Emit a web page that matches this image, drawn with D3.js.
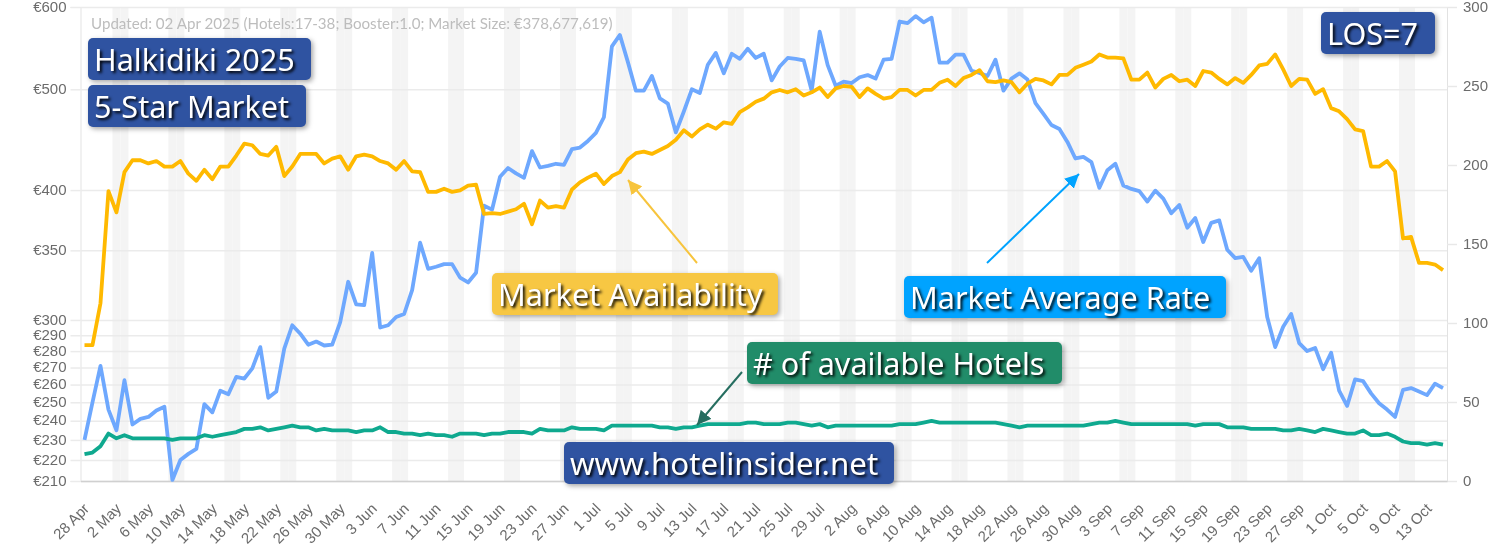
<!DOCTYPE html>
<html>
<head>
<meta charset="utf-8">
<title>Halkidiki 2025</title>
<script src="https://cdn.jsdelivr.net/npm/d3@7"></script>
<style>
  html, body { margin: 0; padding: 0; background: #fff; overflow: hidden; }
  #chart { position: relative; width: 1496px; height: 550px; }
  #chart svg { position: absolute; left: 0; top: 0; }
  .axis { opacity: 0.999; }
  .axis text { font-family: "Liberation Sans", Arial, sans-serif; fill: #6b6b6b; }
  .tag {
    position: absolute; box-sizing: border-box; height: 42px; line-height: 43px;
    padding-left: 6px; border-radius: 5px; color: #fff; white-space: nowrap;
    font-family: "Noto Sans", "Open Sans", sans-serif; font-size: 30.6px;
    text-shadow: 2px 2px 3px #000; box-shadow: 2px 2px 5px rgba(0, 0, 0, 0.35);
  }
</style>
</head>
<body>
<div id="chart"></div>
<script>
// values, one per day from 28 Apr
const firstDay = new Date(2025, 3, 28);
const lastDay = new Date(2025, 9, 15);

const marketRate = [
  230, 250, 271, 246, 235, 262.5, 238, 241, 242, 245.5, 247.5, 210.5, 220, 223, 225.5, 249, 244.5, 256.5, 254.5, 264.5,
  263.5, 269.5, 282.5, 252.5, 256, 281.5, 296.5, 291, 284, 286, 283.5, 284, 298.5, 326.5, 310.5, 310, 348, 295, 296.5, 302,
  304, 320.5, 356, 336, 337.5, 339.5, 339.5, 329.5, 326, 333, 386.5, 383, 412, 420, 415, 411, 436, 420.5, 422, 424,
  423, 438, 439.5, 446, 454, 470, 550, 564, 531, 498.5, 498.5, 515, 490, 484.5, 454.5, 476, 500, 496, 528, 542,
  518, 541, 535, 547, 536, 541, 510, 526, 536, 535, 533, 498.5, 568, 527.5, 504, 508.5, 507, 513.5, 516, 512,
  534, 535, 581, 579, 588, 580, 586, 530.5, 530.5, 540, 540, 521, 518.5, 515, 534, 498.5, 512, 518, 511, 485,
  473.5, 462, 458, 445, 429, 430.5, 425.5, 402, 418, 424, 404, 401, 399, 390, 399.5, 392.5, 380, 387, 368, 376,
  356.5, 372, 374, 350.5, 344, 345, 334.5, 344, 302, 282.5, 295.5, 304, 285, 280, 282, 269, 279, 256.5, 248, 263,
  262, 255, 249.5, 246, 242, 257, 258, 256, 254, 260.5, 258
];

const marketAvailability = [
  86, 86, 112.5, 183.5, 170, 195.5, 203, 203, 201, 202.5, 199, 199, 202.5, 194.5, 190, 197, 191, 199, 199, 206,
  213.5, 212.5, 207, 206, 211.5, 193, 199, 207, 207, 207, 201, 204, 205.5, 197, 205.5, 206.5, 205.5, 202.5, 201, 197,
  202.5, 196, 195.5, 183, 183, 185, 183, 184, 187, 187.5, 169, 169.5, 169, 170.5, 172, 175.5, 162.5, 177.5, 173, 174,
  173, 184.5, 189, 192, 194.5, 188, 193, 195.5, 203.5, 207.5, 208.5, 207, 209.5, 212, 216, 222, 218, 222.5, 225.5, 223,
  227, 226, 233.5, 236.5, 240, 242, 246, 247.5, 246, 248, 244, 246, 249, 243, 248.5, 250, 249.5, 243, 248.5, 245,
  242, 243, 247.5, 247.5, 244, 247.5, 247.5, 252, 254, 250, 255, 257, 260, 253, 252.5, 253.5, 252.5, 246, 251.5, 254.5,
  253.5, 251, 257, 257, 261.5, 263.5, 265.5, 270, 268, 268, 267.5, 254, 254, 258.5, 249, 254.5, 257, 253, 254, 250,
  259.5, 258.5, 254.5, 251, 255, 252, 257, 263, 264, 270, 260.5, 250, 254.5, 254, 245, 248, 236, 234, 229, 222.5,
  221.5, 199, 199, 202.5, 196, 153.5, 154.5, 138, 138, 137, 133.5
];

const availableHotels = [
  17, 18, 22, 30, 27, 29, 27, 27, 27, 27, 27, 26, 27, 27, 27, 29, 28, 29, 30, 31,
  33, 33, 34, 32, 33, 34, 35, 34, 34, 32, 33, 32, 32, 32, 31, 32, 32, 34, 31, 31,
  30, 30, 29, 30, 29, 29, 28, 30, 30, 30, 29, 30, 30, 31, 31, 31, 30, 33, 32, 32,
  32, 34, 33, 33, 33, 32, 35, 35, 35, 35, 35, 35, 34, 34, 33, 34, 34, 35, 36, 36,
  36, 36, 36, 37, 37, 36, 36, 36, 37, 37, 36, 35, 36, 34, 35, 35, 35, 35, 35, 35,
  35, 35, 36, 36, 36, 37, 38, 37, 37, 37, 37, 37, 37, 37, 37, 36, 35, 34, 35, 35,
  35, 35, 35, 35, 35, 35, 36, 37, 37, 38, 37, 36, 36, 36, 36, 36, 36, 36, 36, 35,
  36, 36, 36, 34, 34, 34, 33, 33, 33, 33, 32, 32, 33, 32, 31, 33, 32, 31, 30, 30,
  32, 29, 29, 30, 28, 25, 24, 24, 23, 24, 23
];

const rateTicks = [210, 220, 230, 240, 250, 260, 270, 280, 290, 300, 350, 400, 500, 600];
const availabilityTicks = [0, 50, 100, 150, 200, 250, 300];

const updatedNote = "Updated: 02 Apr 2025 (Hotels:17-38; Booster:1.0; Market Size: €378,677,619)";

const days = d3.timeDay.range(firstDay, d3.timeDay.offset(lastDay, 1));
const dayLabel = d3.timeFormat("%-d %b");

// plot area
const canvas = { width: 1496, height: 550 };
const margin = { left: 80.5, right: 49, top: 7, bottom: 69 };
const plotRight = canvas.width - margin.right;
const plotBottom = canvas.height - margin.bottom;

const x = d3.scaleBand().domain(days).range([margin.left, plotRight]);
const yRate = d3.scaleLog().domain([210, 600]).range([plotBottom, margin.top]);
const yAvail = d3.scaleLinear().domain([0, 300]).range([plotBottom, margin.top]);
const xMid = d => x(d) + x.bandwidth() / 2;

const chartDiv = d3.select("#chart");
const svg = chartDiv.append("svg")
  .attr("width", canvas.width)
  .attr("height", canvas.height);

// Friday and Saturday bands
svg.append("g").selectAll("rect")
  .data(days.filter(d => d.getDay() === 5 || d.getDay() === 6))
  .join("rect")
  .attr("x", d => x(d))
  .attr("y", margin.top)
  .attr("width", x.bandwidth())
  .attr("height", plotBottom - margin.top)
  .attr("fill", "#f4f4f4");

// left axis carries the grid lines
const leftAxis = svg.append("g")
  .attr("class", "axis")
  .attr("transform", "translate(" + margin.left + ",0)")
  .call(d3.axisLeft(yRate)
    .tickValues(rateTicks)
    .tickFormat(d => "€" + d)
    .tickSize(10)
    .tickPadding(4));
leftAxis.selectAll(".tick line").clone()
  .attr("x1", 0)
  .attr("x2", plotRight - margin.left);
leftAxis.selectAll("line").attr("stroke", "#ebebeb").attr("stroke-width", 1.5);
leftAxis.select(".domain").attr("stroke", "#e2e2e2").attr("stroke-width", 1);
leftAxis.selectAll("text").attr("font-size", 15).attr("dy", "0.28em");

const rightAxis = svg.append("g")
  .attr("class", "axis")
  .attr("transform", "translate(" + plotRight + ",0)")
  .call(d3.axisRight(yAvail)
    .tickValues(availabilityTicks)
    .tickSize(10)
    .tickPadding(6));
rightAxis.selectAll("line").attr("stroke", "#e8e8e8").attr("stroke-width", 1.5);
rightAxis.select(".domain").attr("stroke", "#e2e2e2").attr("stroke-width", 1);
rightAxis.selectAll("text").attr("font-size", 15).attr("dy", "0.28em");

const bottomAxis = svg.append("g")
  .attr("class", "axis")
  .attr("transform", "translate(0," + plotBottom + ")")
  .call(d3.axisBottom(x)
    .tickValues(days.filter((d, i) => i % 4 === 0))
    .tickFormat(dayLabel)
    .tickSize(0));
bottomAxis.select(".domain").attr("stroke", "#d0d0d0").attr("stroke-width", 1.5);
bottomAxis.selectAll("text")
  .attr("font-size", 15)
  .attr("text-anchor", "end")
  .attr("transform", "translate(-4,19) rotate(-45)");

// series
function drawLine(values, yScale, color) {
  svg.append("path")
    .datum(values)
    .attr("fill", "none")
    .attr("stroke", color)
    .attr("stroke-width", 3.8)
    .attr("stroke-linejoin", "round")
    .attr("d", d3.line().x((d, i) => xMid(days[i])).y(d => yScale(d)));
}
drawLine(marketRate, yRate, "#6ea8fe");
drawLine(availableHotels, yAvail, "#0fa98f");
drawLine(marketAvailability, yAvail, "#ffb900");

svg.append("text")
  .attr("x", 91)
  .attr("y", 29)
  .attr("font-family", "Lato, sans-serif")
  .attr("font-size", 15.15)
  .attr("fill", "#bdbdbd")
  .text(updatedNote);

// arrows pointing from the tags to the lines
function arrow(id, x1, y1, x2, y2, color) {
  const defs = svg.append("defs");
  defs.append("marker")
    .attr("id", id)
    .attr("viewBox", "0 0 10 10")
    .attr("refX", 10)
    .attr("refY", 5)
    .attr("markerUnits", "userSpaceOnUse")
    .attr("markerWidth", 14)
    .attr("markerHeight", 14)
    .attr("orient", "auto")
    .append("path")
    .attr("d", "M0,0L10,5L0,10z")
    .attr("fill", color);
  svg.append("line")
    .attr("x1", x1).attr("y1", y1).attr("x2", x2).attr("y2", y2)
    .attr("stroke", color)
    .attr("stroke-width", 2)
    .attr("marker-end", "url(#" + id + ")");
}
arrow("arrowYellow", 697, 263, 628, 180, "#f7c43d");
arrow("arrowBlue", 987, 263, 1079, 174, "#00a3ff");
arrow("arrowGreen", 742, 372, 697, 425, "#266e60");

// tags
function tag(label, left, top, width, color) {
  return chartDiv.append("div")
    .attr("class", "tag")
    .style("left", left + "px")
    .style("top", top + "px")
    .style("width", width + "px")
    .style("background", color)
    .text(label);
}
tag("Halkidiki 2025", 88, 38, 223, "#2f53a1");
tag("5-Star Market", 88, 85, 218, "#2f53a1");
tag("LOS=7", 1321, 12, 114, "#2f53a1");
tag("Market Availability", 492, 273, 286, "#f7c743");
tag("Market Average Rate", 904, 276, 322, "#00a3ff");
tag("# of available Hotels", 747, 342, 315, "#218c69");
tag("www.hotelinsider.net", 564, 442, 330, "#2f53a1").style("font-size", "31.3px");
</script>
</body>
</html>
